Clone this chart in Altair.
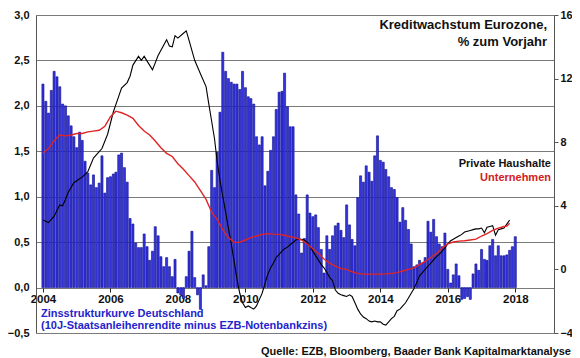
import altair as alt
import pandas as pd

# ---- Zinsstrukturkurve (left axis), monthly from Jan 2004 ----
spread = [
    # 2004
    2.24, 2.05, 1.92, 2.17, 2.38, 2.32, 2.21, 2.02, 2.00, 1.89, 1.78, 1.66,
    # 2005
    1.54, 1.71, 1.62, 1.39, 1.26, 1.13, 1.24, 1.10, 1.15, 1.45, 1.04, 1.21,
    # 2006
    1.22, 1.25, 1.27, 1.46, 1.48, 1.32, 1.16, 0.76, 0.70, 0.49, 0.44, 0.44,
    # 2007
    0.59, 0.45, 0.30, 0.40, 0.67, 0.57, 0.34, 0.23, 0.33, 0.23, 0.12, 0.31,
    # 2008
    -0.06, -0.08, -0.12, 0.12, 0.40, 0.62, 0.11, -0.08, -0.24, 0.14, 0.02, 0.45,
    # 2009
    1.29, 1.10, 1.49, 1.93, 2.59, 2.38, 2.30, 2.26, 2.24, 2.24, 2.18, 2.38,
    # 2010
    2.20, 2.10, 2.08, 2.02, 1.66, 1.57, 1.66, 1.12, 1.28, 1.51, 1.66, 1.96,
    # 2011
    2.15, 2.16, 2.36, 1.99, 1.77, 1.77, 1.02, 0.81, 0.38, 0.54, 1.02, 0.82,
    # 2012
    0.78, 0.80, 0.66, 0.42, 0.16, 0.57, 0.42, 0.57, 0.68, 0.71, 0.63, 0.55,
    # 2013
    0.91, 0.69, 0.53, 0.46, 0.99, 1.23, 1.16, 1.34, 1.27, 1.17, 1.45, 1.67,
    # 2014
    1.40, 1.38, 1.30, 1.22, 1.10, 1.08, 0.99, 0.72, 0.88, 0.74, 0.64, 0.48,
    # 2015
    0.23, 0.25, 0.30, 0.27, 0.33, 0.73, 0.61, 0.75, 0.56, 0.48, 0.45, 0.60,
    # 2016
    0.20, 0.05, 0.14, 0.26, 0.13, -0.13, -0.12, -0.10, -0.13, 0.15, 0.26, 0.19,
    # 2017
    0.42, 0.31, 0.30, 0.46, 0.53, 0.35, 0.46, 0.35, 0.35, 0.36, 0.41, 0.45,
    # 2018
    0.56,
]

# ---- Kreditwachstum (right axis); month index from Jan 2004 ----
black_month = [0, 2, 4, 6, 7, 8, 9, 11, 13, 14, 16, 18, 20, 21, 23, 25, 27, 28, 30, 31,
               32, 34, 35, 36, 38, 39, 41, 44, 45, 46, 47, 48, 50, 51, 52, 54, 56, 58, 59, 60,
               61, 62, 63, 64, 65, 66, 67, 68, 69, 70, 71, 72, 73, 74, 75, 76, 77, 78, 79, 80,
               81, 82, 83, 84, 85, 86, 87, 88, 89, 90, 91, 92, 93, 94, 95, 96, 97, 98, 99, 100,
               101, 102, 103, 104, 105, 106, 107, 108, 109, 110, 111, 112, 113, 114, 115, 116,
               117, 118, 119, 120, 121, 122, 123, 124, 125, 126, 127, 128, 129, 130, 131, 132,
               133, 134, 135, 136, 137, 138, 139, 140, 141, 142, 143, 144, 145, 146, 147, 148,
               149, 150, 151, 152, 153, 154, 155, 156, 157, 158, 159, 160, 161, 162, 163, 164,
               165, 166]
black_value = [3.1, 2.95, 3.35, 4.05, 4.0, 4.4, 4.85, 5.45, 5.7, 5.8, 6.15, 7.0, 7.4, 7.6, 8.5, 9.9, 10.9, 11.4, 11.75, 12.15,
               12.85, 13.4, 13.15, 13.4, 12.85, 12.55, 13.45, 14.45, 14.05, 14.0, 14.7, 14.55, 14.85, 15.0, 14.4, 13.15, 12.3, 11.5, 10.4, 9.3,
               8.2, 6.8, 5.6, 4.6, 3.6, 2.6, 1.6, 0.5, -0.6, -1.5, -2.1, -2.4, -2.3, -2.4, -2.5, -2.3, -1.9, -1.5, -0.9, -0.3,
               0.1, 0.4, 0.75, 0.95, 1.15, 1.3, 1.4, 1.55, 1.7, 1.85, 1.9, 1.9, 1.85, 1.7, 1.45, 1.15, 0.85, 0.6, 0.3, 0.1,
               -0.2, -0.5, -0.7, -1.3, -1.5, -1.6, -1.65, -1.7, -1.6, -1.7, -2.1, -2.5, -2.8, -3.0, -3.1, -3.25,
               -3.3, -3.25, -3.3, -3.3, -3.45, -3.5, -3.3, -3.1, -2.95, -2.6, -2.5, -2.3, -2.1, -1.8, -1.5, -1.2,
               -0.8, -0.4, -0.2, 0.0, 0.2, 0.4, 0.6, 0.8, 0.95, 1.15, 1.35, 1.6, 1.8, 1.9, 2.0, 2.1,
               2.2, 2.35, 2.4, 2.45, 2.5, 2.55, 2.55, 2.6, 2.3, 2.65, 2.7, 2.75, 2.15, 2.5, 2.55, 2.6,
               2.85, 3.1]

red_month = [0, 2, 4, 6, 8, 10, 12, 14, 16, 18, 20, 22, 24, 26, 28, 30, 32, 34, 36, 38,
             40, 42, 44, 46, 48, 50, 52, 54, 56, 58, 60, 62, 64, 66, 68, 70, 72, 74, 76, 78,
             80, 82, 84, 86, 88, 90, 92, 94, 96, 98, 100, 102, 104, 106, 108, 110, 112, 114, 116, 118,
             120, 122, 124, 126, 128, 130, 132, 134, 136, 138, 140, 142, 144, 146, 148, 150, 152, 154, 156, 158,
             160, 162, 164, 165, 166]
red_value = [7.3, 7.6, 8.1, 8.45, 8.4, 8.45, 8.55, 8.55, 8.65, 8.7, 8.75, 9.0, 9.6, 9.95, 9.85, 9.7, 9.5, 9.05, 8.7, 8.45,
             8.07, 7.65, 7.3, 7.1, 6.65, 6.3, 5.9, 5.5, 4.95, 4.4, 3.6, 3.15, 2.5, 2.0, 1.7, 1.7, 1.85, 2.0, 2.1, 2.2,
             2.25, 2.22, 2.2, 2.15, 2.05, 1.98, 1.85, 1.6, 1.3, 1.0, 0.65, 0.4, 0.2, 0.05, 0.0, -0.15, -0.25, -0.3, -0.3, -0.3,
             -0.3, -0.28, -0.25, -0.2, -0.1, 0.0, 0.1, 0.3, 0.5, 0.75, 1.0, 1.35, 1.6, 1.72, 1.78, 1.8, 1.85, 1.9, 2.1, 2.25,
             2.45, 2.6, 2.7, 2.72, 2.9]

year_ticks = [2004, 2006, 2008, 2010, 2012, 2014, 2016, 2018]
left_ticks = [-0.5, 0.0, 0.5, 1.0, 1.5, 2.0, 2.5, 3.0]
right_ticks = [-4, 0, 4, 8, 12, 16]


def month_date(m):
    return pd.Timestamp(year=2004 + m // 12, month=m % 12 + 1, day=1).strftime("%Y-%m-%dT00:00:00")


bars_df = pd.DataFrame({
    "date": [month_date(i) for i in range(len(spread))],
    "spread": spread,
})
lines_df = pd.concat([
    pd.DataFrame({"date": [month_date(m) for m in black_month], "growth": black_value,
                  "series": "Private Haushalte"}),
    pd.DataFrame({"date": [month_date(m) for m in red_month], "growth": red_value,
                  "series": "Unternehmen"}),
])

FONT = "Liberation Sans"
x_scale = alt.Scale(domain=[alt.DateTime(year=2003, month=12, date=11),
                            alt.DateTime(year=2019, month=1, date=1)])

bars = alt.Chart(bars_df).mark_bar(
    size=2.1, color="#3434dc", stroke="#0c0c94", strokeWidth=0.6
).encode(
    x=alt.X("date:T", scale=x_scale, title=None,
            axis=alt.Axis(values=[alt.DateTime(year=y, month=1, date=1) for y in year_ticks],
                          format="%Y", offset=-45, domain=False, grid=False,
                          tickSize=4, tickColor="#222", labelPadding=1,
                          labelFont=FONT, labelFontSize=11.5, labelFontWeight="bold",
                          labelColor="#111", labelFlush=False)),
    y=alt.Y("spread:Q", scale=alt.Scale(domain=[-0.5, 3.0], nice=False, zero=False), title=None,
            axis=alt.Axis(values=left_ticks, grid=True, gridColor="#7a7a7a", gridWidth=1,
                          ticks=False, labelPadding=7, domain=True, domainColor="#555",
                          labelExpr="replace(format(datum.value, '.1f'), '.', ',')",
                          labelFont=FONT, labelFontSize=11, labelFontWeight="bold",
                          labelColor="#111")),
)

lines = alt.Chart(lines_df).mark_line(interpolate="linear").encode(
    x=alt.X("date:T", scale=x_scale),
    y=alt.Y("growth:Q", scale=alt.Scale(domain=[-4, 16], nice=False, zero=False), title=None,
            axis=alt.Axis(orient="right", values=right_ticks, grid=False, tickSize=4,
                          tickColor="#555", domainColor="#555", labelPadding=2,
                          labelFont=FONT, labelFontSize=10.8, labelFontWeight="bold",
                          labelColor="#111")),
    color=alt.Color("series:N", scale=alt.Scale(domain=["Private Haushalte", "Unternehmen"],
                                                range=["#000000", "#e02424"]), legend=None),
    strokeWidth=alt.StrokeWidth("series:N", scale=alt.Scale(domain=["Private Haushalte", "Unternehmen"],
                                                            range=[1.1, 1.4]), legend=None),
    order=alt.Order("series:N"),
)

one = pd.DataFrame({"k": [0]})


def label(text, x, y, color="#111", size=11, align="left"):
    return alt.Chart(one).mark_text(
        text=text, font=FONT, fontSize=size, fontWeight="bold", color=color,
        align=align, baseline="middle"
    ).encode(x=alt.value(x), y=alt.value(y))


texts = [
    label("Kreditwachstum Eurozone,", 511, 10, size=13, align="right"),
    label("% zum Vorjahr", 511, 27, size=13, align="right"),
    label("Private Haushalte", 515, 149, align="right"),
    label("Unternehmen", 515, 163, color="#d42020", align="right"),
    label("Zinsstrukturkurve Deutschland", 5, 299, color="#2424cc"),
    label("(10J-Staatsanleihenrendite minus EZB-Notenbankzins)", 5, 311, color="#2424cc"),
    label("Quelle: EZB, Bloomberg, Baader Bank Kapitalmarktanalyse", 535, 337, align="right"),
]

chart = alt.layer(bars, lines, *texts).resolve_scale(y="independent").properties(
    width=518, height=318,
    autosize=alt.AutoSizeParams(type="none"),
    padding={"left": 28, "top": 7, "right": 18, "bottom": 26},
).configure_view(stroke=None).configure(background="white")

chart.save("out.html", embed_options={"renderer": "svg", "actions": False})
